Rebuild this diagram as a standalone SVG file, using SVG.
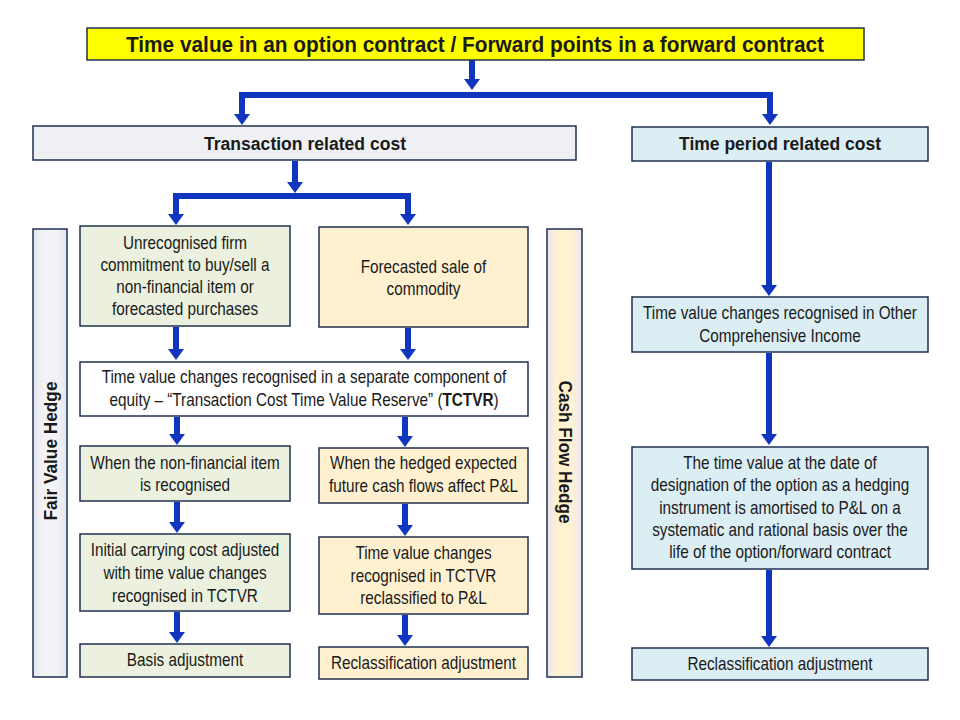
<svg xmlns="http://www.w3.org/2000/svg" width="960" height="720" viewBox="0 0 960 720">
<style>
.box{stroke:#1F3050;stroke-width:1.5}
.t{font-family:"Liberation Sans",Arial,sans-serif;font-size:18px;fill:#1a1a1a;text-anchor:middle}
.b{font-weight:bold}
.ar{stroke:#1036C0;stroke-width:6;fill:none;marker-end:url(#ah)}
.ar2{marker-start:url(#ah)}
.gr{fill:#EBF1DE}
.or{fill:#FFF1D0}
.bl{fill:#DBEEF4}
</style>
<defs>
<marker id="ah" markerUnits="userSpaceOnUse" viewBox="0 0 11 16" markerWidth="11" markerHeight="16" refX="0" refY="8" orient="auto-start-reverse">
<path d="M0,0 L11,8 L0,16 Z" fill="#1036C0"/>
</marker>
<linearGradient id="gFV" x1="0" y1="0" x2="1" y2="0">
<stop offset="0" stop-color="#E4E6EF"/><stop offset="0.3" stop-color="#F3F3F5"/><stop offset="0.7" stop-color="#F3F3F5"/><stop offset="1" stop-color="#E4E6EF"/>
</linearGradient>
<linearGradient id="gCF" x1="0" y1="0" x2="1" y2="0">
<stop offset="0" stop-color="#ECE6F2"/><stop offset="0.3" stop-color="#FFF2D2"/><stop offset="0.7" stop-color="#FFF2D2"/><stop offset="1" stop-color="#ECE6F2"/>
</linearGradient>
</defs>
<rect width="960" height="720" fill="#FFFFFF"/>

<g id="connectors">
<path class="ar" d="M472,60 V79"/>
<path class="ar ar2" d="M242,114 V95 H770 V114"/>
<path class="ar" d="M295,161 V182"/>
<path class="ar ar2" d="M176,214 V196 H408 V214"/>
<path class="ar" d="M176,327 V349"/>
<path class="ar" d="M408,328 V349"/>
<path class="ar" d="M177,417 V434"/>
<path class="ar" d="M405,417 V436"/>
<path class="ar" d="M177,502 V522"/>
<path class="ar" d="M177,612 V632"/>
<path class="ar" d="M405,504 V525"/>
<path class="ar" d="M405,615 V635"/>
<path class="ar" d="M769,162 V285"/>
<path class="ar" d="M769,353 V434"/>
<path class="ar" d="M769,570 V636"/>
</g>

<g id="title">
<rect class="box" x="87" y="28" width="777" height="32" fill="#FFFF00"/>
<text class="t b" x="475" y="52" font-size="22" style="font-size:22px" textLength="698" lengthAdjust="spacingAndGlyphs">Time value in an option contract / Forward points in a forward contract</text>
</g>

<g id="transaction">
<rect class="box" x="33" y="126" width="543" height="34" fill="#EFF0F3"/>
<text class="t b" x="305" y="149.5" textLength="202" lengthAdjust="spacingAndGlyphs">Transaction related cost</text>
</g>

<g id="timeperiod">
<rect class="box bl" x="632" y="127" width="296" height="34"/>
<text class="t b" x="780" y="150" textLength="202" lengthAdjust="spacingAndGlyphs">Time period related cost</text>
</g>

<g id="fairvalue">
<rect class="box" x="33" y="229" width="34" height="448" fill="url(#gFV)"/>
<text class="t b" transform="translate(56.5 451) rotate(-90)" x="0" y="0" textLength="139" lengthAdjust="spacingAndGlyphs">Fair Value Hedge</text>
</g>

<g id="cashflow">
<rect class="box" x="547" y="229" width="35" height="448" fill="url(#gCF)"/>
<text class="t b" transform="translate(558.5 452) rotate(90)" x="0" y="0" textLength="143" lengthAdjust="spacingAndGlyphs">Cash Flow Hedge</text>
</g>

<g id="g1">
<rect class="box gr" x="80" y="226" width="210" height="100"/>
<g transform="translate(185 0) scale(0.85 1)">
<text class="t" x="0" y="249.5">Unrecognised firm</text>
<text class="t" x="0" y="271.5">commitment to buy/sell a</text>
<text class="t" x="0" y="293.5">non-financial item or</text>
<text class="t" x="0" y="315.5">forecasted purchases</text>
</g>
</g>

<g id="o1">
<rect class="box or" x="319" y="227" width="209" height="100"/>
<g transform="translate(423.5 0) scale(0.85 1)">
<text class="t" x="0" y="273">Forecasted sale of</text>
<text class="t" x="0" y="295">commodity</text>
</g>
</g>

<g id="tctvr">
<rect class="box" x="80" y="362" width="448" height="54" fill="#FFFFFF"/>
<g transform="translate(304 0) scale(0.85 1)">
<text class="t" x="0" y="383.5">Time value changes recognised in a separate component of</text>
<text class="t" x="0" y="406">equity – “Transaction Cost Time Value Reserve” (<tspan class="b">TCTVR</tspan>)</text>
</g>
</g>

<g id="g2">
<rect class="box gr" x="80" y="446" width="210" height="55"/>
<g transform="translate(185 0) scale(0.85 1)">
<text class="t" x="0" y="469.5">When the non-financial item</text>
<text class="t" x="0" y="491.5">is recognised</text>
</g>
</g>

<g id="g3">
<rect class="box gr" x="80" y="534" width="210" height="77"/>
<g transform="translate(185 0) scale(0.85 1)">
<text class="t" x="0" y="556">Initial  carrying cost adjusted</text>
<text class="t" x="0" y="579">with time  value changes</text>
<text class="t" x="0" y="602">recognised in TCTVR</text>
</g>
</g>

<g id="g4">
<rect class="box gr" x="80" y="644" width="210" height="33"/>
<g transform="translate(185 0) scale(0.85 1)">
<text class="t" x="0" y="666.5">Basis adjustment</text>
</g>
</g>

<g id="o2">
<rect class="box or" x="319" y="448" width="209" height="55"/>
<g transform="translate(423.5 0) scale(0.85 1)">
<text class="t" x="0" y="469.5">When the hedged expected</text>
<text class="t" x="0" y="492">future  cash flows affect  P&amp;L</text>
</g>
</g>

<g id="o3">
<rect class="box or" x="319" y="537" width="209" height="77"/>
<g transform="translate(423.5 0) scale(0.85 1)">
<text class="t" x="0" y="559">Time value changes</text>
<text class="t" x="0" y="582">recognised in TCTVR</text>
<text class="t" x="0" y="604">reclassified to P&amp;L</text>
</g>
</g>

<g id="o4">
<rect class="box or" x="319" y="647" width="209" height="32"/>
<g transform="translate(423.5 0) scale(0.85 1)">
<text class="t" x="0" y="669">Reclassification adjustment</text>
</g>
</g>

<g id="oci">
<rect class="box bl" x="632" y="297" width="296" height="55"/>
<g transform="translate(780 0) scale(0.85 1)">
<text class="t" x="0" y="319">Time value changes recognised in Other</text>
<text class="t" x="0" y="342">Comprehensive Income</text>
</g>
</g>

<g id="amort">
<rect class="box bl" x="632" y="447" width="296" height="122"/>
<g transform="translate(780 0) scale(0.85 1)">
<text class="t" x="0" y="469.5">The time value at the date of</text>
<text class="t" x="0" y="491.5">designation of the option as a hedging</text>
<text class="t" x="0" y="514">instrument is amortised to P&amp;L on a</text>
<text class="t" x="0" y="536">systematic  and rational basis over the</text>
<text class="t" x="0" y="558">life  of the option/forward contract</text>
</g>
</g>

<g id="reclass">
<rect class="box bl" x="632" y="648" width="296" height="32"/>
<g transform="translate(780 0) scale(0.85 1)">
<text class="t" x="0" y="670.5">Reclassification adjustment</text>
</g>
</g>
</svg>
